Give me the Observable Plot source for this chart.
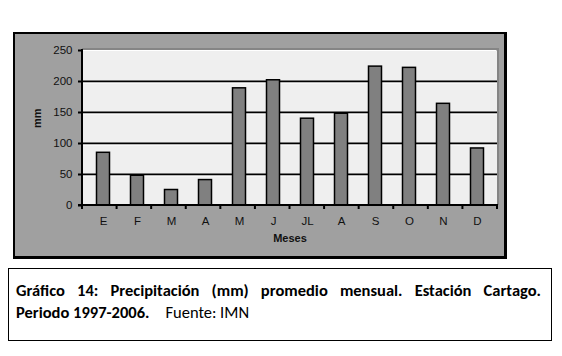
<!DOCTYPE html>
<html>
<head>
<meta charset="utf-8">
<script src="https://cdn.jsdelivr.net/npm/d3@7"></script>
<script src="https://cdn.jsdelivr.net/npm/@observablehq/plot@0.6"></script>
<style>
  html, body { margin: 0; padding: 0; background: #fff; width: 562px; height: 356px; overflow: hidden; }
  #box { position: absolute; left: 13px; top: 32px; width: 489px; height: 222px; background: #a0a0a0;
         border-left: 2px solid #000; border-top: 2px solid #000; border-right: 3px solid #000; border-bottom: 3px solid #000; }
  #box svg { display: block; }
  #cap { position: absolute; left: 8px; top: 268px; width: 544px; height: 73px; box-sizing: border-box;
         border: 1px solid #000; padding: 10px 10px 0 7px;
         font-family: Carlito, Calibri, Lato, "Open Sans", sans-serif; font-size: 16.5px; line-height: 22px; color: #000; }
  #cap .l1 { font-weight: bold; text-align: justify; text-align-last: justify; white-space: nowrap; }
  #cap .l2 b { font-weight: bold; margin-right: 16px; }
</style>
</head>
<body>
<div id="box"></div>
<div id="cap">
  <div class="l1">Gráfico 14: Precipitación (mm) promedio mensual. Estación Cartago.</div>
  <div class="l2"><b>Periodo 1997-2006.</b>Fuente: IMN</div>
</div>
<script>
const monthKeys = ["ene","feb","mar","abr","may","jun","jul","ago","sep","oct","nov","dic"];
const monthLabels = ["E","F","M","A","M","J","JL","A","S","O","N","D"];
const precipitation = [85, 48, 25, 41, 189, 202, 140, 148, 224, 222, 164, 92];
const yTicks = [0, 50, 100, 150, 200, 250];
const gridValues = [50, 100, 150, 200];

const data = monthKeys.map((k, i) => ({key: k, value: precipitation[i]}));

function frameLines(index, scales, values, dims) {
  const {width, height, marginTop, marginRight, marginBottom, marginLeft} = dims;
  const x0 = marginLeft, x1 = width - marginRight, y0 = marginTop, y1 = height - marginBottom;
  const g = d3.create("svg:g");
  g.append("line").attr("x1", x0).attr("x2", x1).attr("y1", y0 - 1).attr("y2", y0 - 1).attr("stroke", "#858585").attr("stroke-width", 2);
  g.append("line").attr("x1", x0).attr("x2", x1 - 1).attr("y1", y0 + 0.5).attr("y2", y0 + 0.5).attr("stroke", "#fff").attr("stroke-width", 1);
  g.append("line").attr("x1", x1 + 1).attr("x2", x1 + 1).attr("y1", y0 - 2).attr("y2", y1).attr("stroke", "#858585").attr("stroke-width", 2);
  g.append("line").attr("x1", x0).attr("x2", x0).attr("y1", y0 - 1).attr("y2", y1 + 1).attr("stroke", "#000").attr("stroke-width", 2);
  g.append("line").attr("x1", x0 - 4).attr("x2", x1 + 1).attr("y1", y1).attr("y2", y1).attr("stroke", "#000").attr("stroke-width", 2);
  const step = (x1 - x0) / monthKeys.length;
  for (let i = 0; i <= monthKeys.length; i++) {
    const xx = x0 + i * step;
    g.append("line").attr("x1", xx).attr("x2", xx).attr("y1", y1).attr("y2", y1 + 4).attr("stroke", "#000").attr("stroke-width", 2);
  }
  return g.node();
}

const chart = Plot.plot({
  width: 489,
  height: 222,
  marginLeft: 67,
  marginRight: 7,
  marginTop: 16,
  marginBottom: 51,
  style: {background: "transparent", fontFamily: "'Liberation Sans', Arial, sans-serif", fontSize: "11.5px", color: "#111", overflow: "visible"},
  x: {domain: monthKeys, padding: 0, axis: null},
  y: {domain: [0, 250], axis: null},
  marks: [
    Plot.frame({fill: "#efefef", stroke: null}),
    Plot.ruleY(gridValues, {stroke: "#000", strokeWidth: 2}),
    Plot.ruleY(gridValues, {stroke: "#fff", strokeWidth: 1, dy: 1.5}),
    Plot.barY(data, {x: "key", y: "value", fill: "#808080", stroke: "#000", strokeWidth: 1.5, insetLeft: 10.5, insetRight: 10.5}),
    frameLines,
    Plot.axisY(yTicks, {tickSize: 4, tickPadding: 6, strokeWidth: 2, stroke: "#000", label: null}),
    Plot.axisX({tickSize: 0, tickPadding: 11, label: null, tickFormat: d => monthLabels[monthKeys.indexOf(d)]}),
    Plot.text(["Meses"], {text: d => d, frameAnchor: "bottom", dy: 36, fontWeight: "bold", fontSize: 11}),
    Plot.text(["mm"], {text: d => d, frameAnchor: "left", dx: -45, rotate: -90, fontWeight: "bold", fontSize: 11})
  ]
});
document.getElementById("box").appendChild(chart);
</script>
</body>
</html>
